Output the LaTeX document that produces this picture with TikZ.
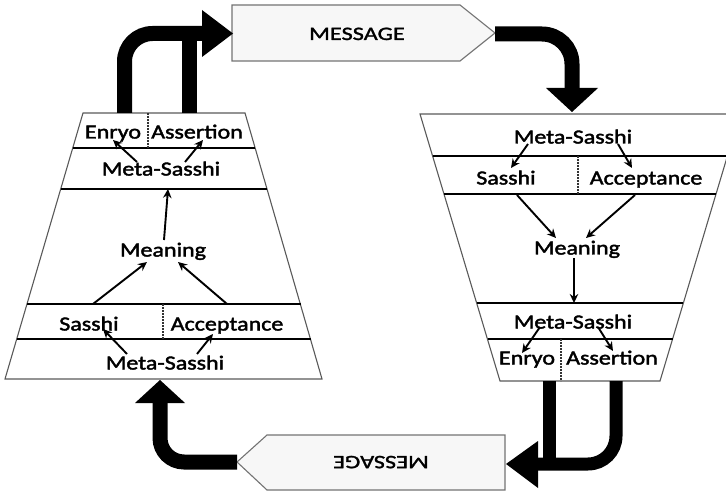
\documentclass[tikz,border=0pt]{standalone}
\usepackage{fontspec}
\usetikzlibrary{arrows.meta}
\newfontfamily\lblfont{Carlito}[FakeStretch=1.2,FakeBold=2]
\newfontfamily\msgfont{Carlito}[FakeStretch=1.28,FakeBold=1.6]
\begin{document}
\begin{tikzpicture}[x=1pt,y=-1pt,
  lbl/.style={font=\lblfont\fontsize{20}{24}\selectfont, inner sep=0pt, text height=13pt, text depth=0pt},
  msg/.style={font=\msgfont\fontsize{19}{23}\selectfont, inner sep=0pt, text height=12pt, text depth=0pt},
  outline/.style={draw=black!65, line width=1.1pt, line join=miter},
  sep/.style={draw=black, line width=2.2pt},
  divider/.style={draw=black!80, line width=1.2pt, dash pattern=on 1.6pt off 1.4pt},
  link/.style={draw=black, line width=1.9pt, -{Stealth[length=9pt,width=8.5pt]}},
  flow/.style={draw=black, line width=15pt},
  msgbox/.style={draw=black!55, line width=1.1pt, fill=black!3}]
\useasboundingbox (0,0) rectangle (726,492);
\clip (0,0) rectangle (726,492);

% ---- message boxes ----
\draw[msgbox] (232,5) -- (460,5) -- (495,33) -- (460,61) -- (232,61) -- cycle;
\node[msg] (msgtop) at (357,34) {MESSAGE};
\coordinate (msgtopin) at (203,33.5);
\coordinate (msgtopout) at (495,34);

\draw[msgbox] (505,435) -- (505,490) -- (267,490) -- (237,462) -- (267,435) -- cycle;
\node[msg, rotate=180] (msgbot) at (381,462) {MESSAGE};
\coordinate (msgbotin) at (538,464);
\coordinate (msgbotout) at (237,462);

% ---- left (sender) trapezoid ----
\draw[outline] (83,113) -- (245,113) -- (322,379) -- (5,379) -- cycle;
\draw[sep] (72.7,148) -- (255.3,148);
\draw[sep] (60.7,189) -- (267.3,189);
\draw[sep] (27.0,304) -- (301.0,304);
\draw[sep] (16.8,339) -- (311.2,339);
\draw[divider] (148,113) -- (148,148);
\draw[divider] (163,304) -- (163,339);

\node[lbl] (lenryo) at (113,132) {Enryo};
\node[lbl] (lassert) at (197,132) {Assertion};
\node[lbl] (lmetatop) at (161,169) {Meta-Sasshi};
\node[lbl] (lmeaning) at (163,250) {Meaning};
\node[lbl] (lsasshi) at (89,324) {Sasshi};
\node[lbl] (laccept) at (227,324) {Acceptance};
\node[lbl] (lmetabot) at (165,363) {Meta-Sasshi};
\coordinate (lline) at (168,189);
\coordinate (lsline) at (93,304);
\coordinate (laline) at (227,304);

\draw[link] (127,354) -- (103,329);
\draw[link] (197,354) -- (213,334);
\draw[link] (lsline) -- (147,262);
\draw[link] (laline) -- (178,262);
\draw[link] (164,240) -- (lline);
\draw[link] (137,162) -- (113,140);
\draw[link] (185,162) -- (203,140);

% ---- right (receiver) trapezoid ----
\draw[outline] (420,114) -- (740,114) -- (660,381) -- (500,381) -- cycle;
\draw[sep] (432.6,156) -- (727.4,156);
\draw[sep] (444,194) -- (716,194);
\draw[sep] (476.7,303) -- (683.3,303);
\draw[sep] (487.5,339) -- (672.5,339);
\draw[divider] (578,156) -- (578,194);
\draw[divider] (561,339) -- (561,381);

\node[lbl] (rmetatop) at (573,137) {Meta-Sasshi};
\node[lbl] (rsasshi) at (506,178) {Sasshi};
\node[lbl] (raccept) at (646,178) {Acceptance};
\node[lbl] (rmeaning) at (577,248) {Meaning};
\node[lbl] (rmetabot) at (573,322) {Meta-Sasshi};
\node[lbl] (renryo) at (527,358) {Enryo};
\node[lbl] (rassert) at (612,358) {Assertion};
\coordinate (rline) at (574,303);

\draw[link] (528,144) -- (511,168);
\draw[link] (618,144) -- (632,168);
\draw[link] (517,195) -- (556,238);
\draw[link] (635,195) -- (586,238);
\draw[link] (574,258) -- (rline);
\draw[link] (540,327) -- (522,353);
\draw[link] (598,327) -- (613,351);

% ---- thick flow arrows ----
\coordinate (ltopL) at (124.5,113);
\coordinate (ltopR) at (189,113);
\draw[flow, rounded corners=28pt] (ltopL) |- (msgtopin);
\draw[flow] (ltopR) -- (189,33.5);
\fill (202,10) -- (233,33.5) -- (202,57) -- cycle;

\coordinate (rtophead) at (572,89);
\draw[flow, rounded corners=30pt] (msgtopout) -| (rtophead);
\fill (546,88) -- (598,88) -- (572,112) -- cycle;

\coordinate (rbotL) at (549.5,381);
\coordinate (rbotR) at (616,381);
\draw[flow, line width=13pt] (rbotL) -- (549.5,464);
\draw[flow, line width=13pt, rounded corners=28pt] (rbotR) |- (msgbotin);
\fill (538,441) -- (538,488) -- (506,464) -- cycle;

\coordinate (lbothead) at (160,403);
\draw[flow, rounded corners=24pt] (msgbotout) -| (lbothead);
\fill (135,403) -- (185,403) -- (160,380) -- cycle;
\end{tikzpicture}
\end{document}
